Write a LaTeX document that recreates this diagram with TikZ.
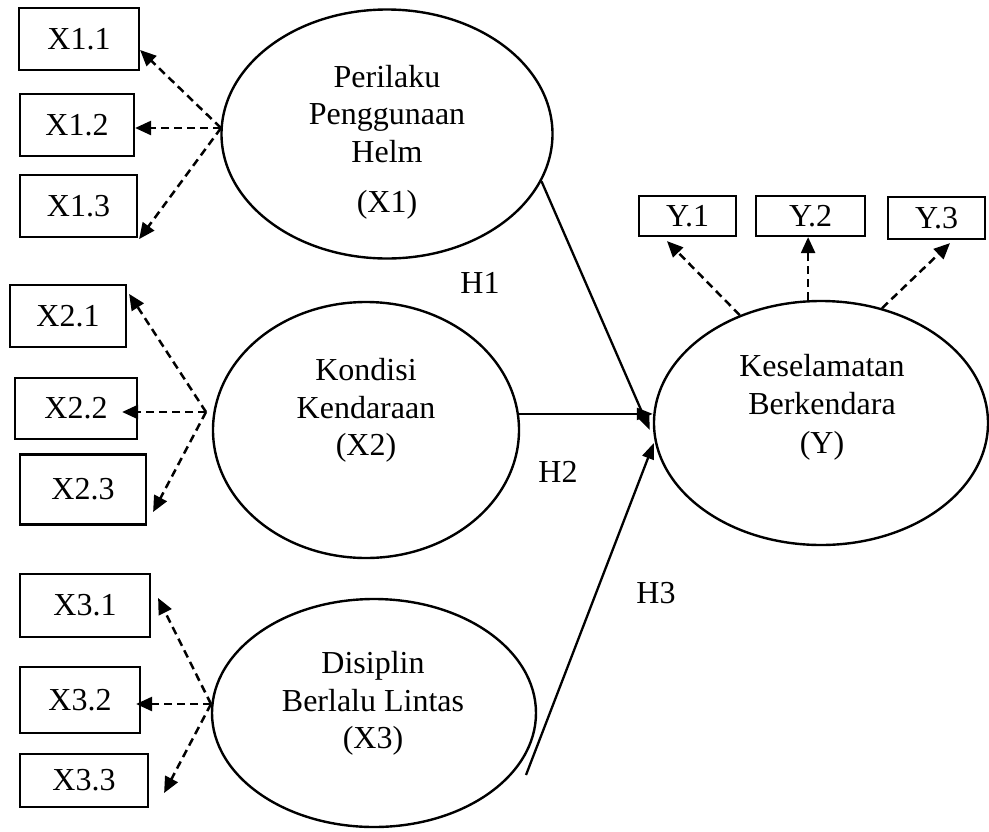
\documentclass[tikz,border=0pt]{standalone}
\usepackage{fontspec}
\setmainfont{Liberation Serif}
\usetikzlibrary{shapes.geometric,arrows.meta,calc}
\begin{document}
\begin{tikzpicture}[x=1pt,y=1pt,
  every node/.style={font=\fontsize{32}{37.5}\selectfont},
  box/.style={draw, line width=2.2pt, inner sep=0pt},
  lat/.style={draw, ellipse, line width=2.4pt, inner sep=0pt},
  dasharrow/.style={line width=2.5pt, dash pattern=on 8pt off 5pt, -{Triangle[length=16pt,width=14pt]}},
  patharrow/.style={line width=2.3pt, -{Triangle[length=16pt,width=12pt]}}]
\useasboundingbox (0,0) rectangle (989,-831);

% indicator boxes
\node[box, minimum width=120pt, minimum height=62pt] (x11) at (79,-39) {X1.1};
\node[box, minimum width=114pt, minimum height=62pt] (x12) at (77,-125) {X1.2};
\node[box, minimum width=117pt, minimum height=62pt] (x13) at (78.5,-206) {X1.3};
\node[box, minimum width=116pt, minimum height=62pt] (x21) at (68,-316) {X2.1};
\node[box, minimum width=122pt, minimum height=61pt] (x22) at (76,-408.5) {X2.2};
\node[box, minimum width=126pt, minimum height=70pt] (x23) at (83,-489.5) {X2.3};
\node[box, minimum width=130pt, minimum height=63pt] (x31) at (85,-605.5) {X3.1};
\node[box, minimum width=120pt, minimum height=66pt] (x32) at (80,-700) {X3.2};
\node[box, minimum width=128pt, minimum height=53pt] (x33) at (84,-780.5) {X3.3};
\node[box, minimum width=97pt, minimum height=40pt] (y1) at (687.5,-216) {Y.1};
\node[box, minimum width=109pt, minimum height=40pt] (y2) at (810.5,-216) {Y.2};
\node[box, minimum width=97pt, minimum height=42pt] (y3) at (936.5,-218) {Y.3};

% latent variables
\node[lat, minimum width=331pt, minimum height=249pt] (e1) at (387,-134) {};
\node[lat, minimum width=306pt, minimum height=256pt] (e2) at (366,-430) {};
\node[lat, minimum width=324pt, minimum height=228pt] (e3) at (374,-713) {};
\node[lat, minimum width=334pt, minimum height=244pt] (ey) at (821,-423) {};

\node[align=center] (t1) at (387,-142.5) {Perilaku\\Penggunaan\\Helm\\[13pt](X1)};
\node[align=center] (t2) at (366,-410.6) {Kondisi\\Kendaraan\\(X2)};
\node[align=center] (t3) at (373,-703.6) {Disiplin\\Berlalu Lintas\\(X3)};
\node[align=center] (ty) at (822,-407.5) {Keselamatan\\Berkendara\\[2pt](Y)};

% reflective indicators
\coordinate (c1) at (221,-128);
\coordinate (c2) at (206,-412);
\coordinate (c3) at (211,-704);
\draw[dasharrow] (c1) -- ($(x11.east)+(0,-11)$);
\draw[dasharrow] (c1) -- ($(x12.east)+(0,-3)$);
\draw[dasharrow] (c1) -- ($(x13.south east)+(1,-1)$);
\draw[dasharrow] (c2) -- ($(x21.north east)+(2,-10)$);
\draw[dasharrow] (c2) -- ($(x22.east)+(-16,-3.5)$);
\draw[dasharrow] (c2) -- ($(x23.east)+(6,-22.5)$);
\draw[dasharrow] (c3) -- ($(x31.east)+(7,7.5)$);
\draw[dasharrow] (c3) -- ($(x32.east)+(-5,-4)$);
\draw[dasharrow] (c3) -- ($(x33.east)+(15,-12.5)$);

\draw[dasharrow] (ey.127) -- ($(y1.south)+(-20.5,-4)$);
\draw[dasharrow] (ey.96) -- (ey.96 |- y2.south);
\draw[dasharrow] (ey.62) -- ($(y3.south)+(13.5,-3)$);

% structural paths
\coordinate (h3s) at (526,-775);
\draw[patharrow] (e1.343) -- ($(ey.west)+(-3,-7)$);
\draw[patharrow] (e2.6) -- (e2.6 -| ey.west);
\draw[patharrow] (h3s) -- ($(ey.west)+(1,-20)$);

\node (h1) at (480,-283) {H1};
\node (h2) at (558,-472) {H2};
\node (h3) at (656,-593) {H3};
\end{tikzpicture}
\end{document}
